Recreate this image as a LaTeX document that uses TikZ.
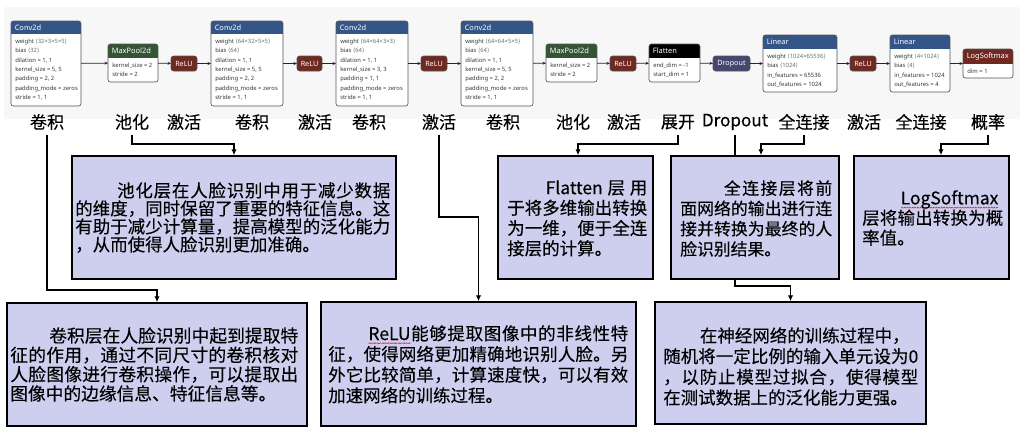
\documentclass[tikz,border=0pt]{standalone}
\usepackage{fontspec}
\setmainfont{Noto Sans CJK SC}[FakeBold=0.2]
\newfontfamily\netf{Noto Sans}
\newfontfamily\dvs{DejaVu Sans}
\usetikzlibrary{arrows.meta}
\definecolor{convc}{RGB}{51,85,136}
\definecolor{poolc}{RGB}{51,85,51}
\definecolor{reluc}{RGB}{112,41,33}
\definecolor{dropc}{RGB}{69,71,112}
\definecolor{boxc}{RGB}{206,206,238}
\definecolor{panelc}{RGB}{247,247,247}
\definecolor{nbord}{RGB}{85,85,85}
\definecolor{valc}{RGB}{110,110,110}
\definecolor{bodyc}{RGB}{55,55,55}
\newcommand\ang[1]{\textcolor{valc}{{\dvs ⟨}#1{\dvs ⟩}}}
\newsavebox\sqbox
\newcommand\squig[1]{\sbox\sqbox{#1}\rlap{\raisebox{-2.8pt}[0pt][0pt]{\hbox to \wd\sqbox{\xleaders\hbox{\tikz[baseline=0pt,x=1pt,y=1pt]\draw[red,line width=0.35pt] (0,0)--(0.8,0.8)--(1.6,0);}\hfill}}}\usebox\sqbox}
\def\spreadloop#1{\ifx\relax#1\else\hfil#1\expandafter\spreadloop\fi}
\newcommand\jl[3]{\hbox to #1{#2\spreadloop#3\relax}}
\newcommand\netnode[9]{%
  \node[netbox, minimum width={(#4-#2)*0.75pt}, minimum height={(#5-#3)*0.75pt}] (#1) at ({(#2+#4)/2},{(#3+#5)/2}) {};
  \begin{scope}
    \clip[rounded corners=1.8pt] (#2,#3) rectangle (#4,#5);
    \fill[#7] (#2,#3) rectangle (#4,#6);
  \end{scope}
  \draw[nbordl] (#2,#3) rectangle (#4,#5);
  \node[nettitle] (#1-t) at (#2+3.5,{(#3+#6)/2}) {#8};
  \node[netbody] (#1-b) at (#2+4,#6+4.5) {#9};
}
\begin{document}
\begin{tikzpicture}[x=0.75pt,y=-0.75pt,
  netbox/.style={fill=white, inner sep=0pt, outer sep=0pt},
  nbordl/.style={draw=nbord, line width=0.5pt, rounded corners=1.8pt},
  nettitle/.style={anchor=west, inner sep=0pt, text=white, font=\netf\fontsize{5.6}{6}\selectfont},
  netbody/.style={anchor=north west, inner sep=0pt, align=left, text=bodyc, font=\netf\fontsize{4.4}{7.05}\selectfont},
  act/.style={draw=nbord, line width=0.5pt, rounded corners=2pt, text=white, inner sep=0pt, outer sep=0pt,
    minimum height=11.25pt, font=\netf\fontsize{5.4}{6}\selectfont},
  flow/.style={draw=black!85, line width=0.55pt, -{Stealth[length=2.6pt,width=2.2pt]}},
  lab/.style={inner sep=0pt, font=\fontsize{12.8}{14}\selectfont},
  desc/.style={draw=black, line width=1.2pt, fill=boxc, inner sep=0pt},
  dtxt/.style={anchor=north west, inner sep=0pt, align=left},
  conn/.style={draw=black, line width=1.3pt, -{Latex[length=4.4pt,width=4pt]}}
]
\useasboundingbox (0,0) rectangle (1024,436);
\fill[white] (0,0) rectangle (1024,436);
\fill[panelc] (4,7) rectangle (1020,119);

% ---------- network row ----------
\netnode{c1}{11}{21}{81}{106}{34}{convc}{Conv2d}{{\bfseries weight} \ang{32×3×5×5}\\{\bfseries bias} \ang{32}\\dilation = 1, 1\\kernel\_size = 5, 5\\padding = 2, 2\\padding\_mode = zeros\\stride = 1, 1}
\netnode{p1}{108}{44}{158}{82}{58}{poolc}{MaxPool2d}{kernel\_size = 2\\stride = 2}
\node[act, fill=reluc, minimum width=19.5pt] (r1) at (184,63.5) {ReLU};
\netnode{c2}{211}{21}{283}{106}{34}{convc}{Conv2d}{{\bfseries weight} \ang{64×32×5×5}\\{\bfseries bias} \ang{64}\\dilation = 1, 1\\kernel\_size = 5, 5\\padding = 2, 2\\padding\_mode = zeros\\stride = 1, 1}
\node[act, fill=reluc, minimum width=18.75pt] (r2) at (309.5,63.5) {ReLU};
\netnode{c3}{336}{21}{408}{106}{34}{convc}{Conv2d}{{\bfseries weight} \ang{64×64×3×3}\\{\bfseries bias} \ang{64}\\dilation = 1, 1\\kernel\_size = 3, 3\\padding = 1, 1\\padding\_mode = zeros\\stride = 1, 1}
\node[act, fill=reluc, minimum width=19.5pt] (r3) at (434,63.5) {ReLU};
\netnode{c4}{461}{21}{533}{106}{34}{convc}{Conv2d}{{\bfseries weight} \ang{64×64×5×5}\\{\bfseries bias} \ang{64}\\dilation = 1, 1\\kernel\_size = 5, 5\\padding = 2, 2\\padding\_mode = zeros\\stride = 1, 1}
\netnode{p2}{546}{44}{597}{82}{58}{poolc}{MaxPool2d}{kernel\_size = 2\\stride = 2}
\node[act, fill=reluc, minimum width=19.5pt] (r4) at (623,63.5) {ReLU};
\netnode{f1}{649}{44}{700}{82}{58}{black}{Flatten}{end\_dim = -1\\start\_dim = 1}
\node[act, fill=dropc, minimum width=27.75pt] (d1) at (731.5,63.5) {Dropout};
\netnode{lin1}{763}{35}{837}{92}{49}{convc}{Linear}{{\bfseries weight} \ang{1024×65536}\\{\bfseries bias} \ang{1024}\\in\_features = 65536\\out\_features = 1024}
\node[act, fill=reluc, minimum width=19.5pt] (r5) at (863,63.5) {ReLU};
\netnode{lin2}{890}{35}{950}{92}{49}{convc}{Linear}{{\bfseries weight} \ang{4×1024}\\{\bfseries bias} \ang{4}\\in\_features = 1024\\out\_features = 4}
\netnode{s1}{963}{49}{1013}{78}{64}{reluc}{LogSoftmax}{dim = 1}

\draw[flow] (c1) -- (p1);
\draw[flow] (p1) -- (r1);
\draw[flow] (r1) -- (c2);
\draw[flow] (c2) -- (r2);
\draw[flow] (r2) -- (c3);
\draw[flow] (c3) -- (r3);
\draw[flow] (r3) -- (c4);
\draw[flow] (c4) -- (p2);
\draw[flow] (p2) -- (r4);
\draw[flow] (r4) -- (f1);
\draw[flow] (f1) -- (d1);
\draw[flow] (d1) -- (lin1);
\draw[flow] (lin1) -- (r5);
\draw[flow] (r5) -- (lin2);
\draw[flow] (lin2) -- (s1);

% ---------- labels ----------
\node[lab] (t1) at (47,122) {卷积};
\node[lab] (t2) at (132,122) {池化};
\node[lab] (t3) at (184,122) {激活};
\node[lab] (t4) at (252,122) {卷积};
\node[lab] (t5) at (315,122) {激活};
\node[lab] (t6) at (369,122) {卷积};
\node[lab] (t7) at (439,122) {激活};
\node[lab] (t8) at (503,122) {卷积};
\node[lab] (t9) at (573,122) {池化};
\node[lab] (t10) at (624,122) {激活};
\node[lab] (t11) at (678,122) {展开};
\node[lab] (t12) at (735,122) {Dropout};
\node[lab] (t13) at (804,122) {全连接};
\node[lab] (t14) at (864,122) {激活};
\node[lab] (t15) at (921,122) {全连接};
\node[lab] (t16) at (988,122) {概率};
\coordinate (ytop) at (0,135);

% ---------- description boxes ----------
\node[desc, minimum width=225pt, minimum height=92.25pt] (dE) at (157,364.5) {};
\node[desc, minimum width=236.25pt, minimum height=93pt] (dF) at (478.5,364) {};
\node[desc, minimum width=203.25pt, minimum height=91.5pt] (dG) at (790.5,363) {};
\node[desc, minimum width=243pt, minimum height=92.25pt] (dA) at (234,217.5) {};
\node[desc, minimum width=116.25pt, minimum height=92.25pt] (dB) at (575.5,217.5) {};
\node[desc, minimum width=116.25pt, minimum height=92.25pt] (dD) at (931.5,217.5) {};

\draw[conn] (t12 |- ytop) |- ([yshift=11.25pt]dG.north) -- (dG.north);

\node[desc, minimum width=126pt, minimum height=92.25pt] (dC) at (755,217.5) {};

\node[dtxt, font=\fontsize{13.1}{13.5}\selectfont] (xA) at (75,182) {\jl{236.25pt}{\hspace*{2.4em}池}{化层在人脸识别中用于减少数据}\\\jl{236.25pt}{的}{维度，同时保留了重要的特征信息。这}\\\jl{236.25pt}{有}{助于减少计算量，提高模型的泛化能力}\\，从而使得人脸识别更加准确。};
\node[dtxt, font=\fontsize{13.1}{15.2}\selectfont] (xB) at (507,180) {\hbox to 105pt{\hspace*{2.2em}Flatten\hfil\ 层\hfil\ 用}\\\jl{105pt}{于}{将多维输出转换}\\\jl{105pt}{为}{一维，便于全连}\\接层的计算。};
\node[dtxt, font=\fontsize{12.6}{15.2}\selectfont] (xC) at (680,180) {\jl{114pt}{\hspace*{2.6em}全}{连接层将前}\\\jl{114pt}{面}{网络的输出进行连}\\\jl{114pt}{接}{并转换为最终的人}\\脸识别结果。};
\node[dtxt, font=\fontsize{13.1}{15}\selectfont] (xD) at (862,190) {\vphantom{层}\hspace*{2.2em}\squig{LogSoftmax}\\\jl{105.75pt}{层}{将输出转换为概}\\率值。};
\node[dtxt, font=\fontsize{13.3}{14.5}\selectfont] (xE) at (10,327) {\jl{216pt}{\hspace*{2.2em}卷}{积层在人脸识别中起到提取特}\\\jl{216pt}{征}{的作用，通过不同尺寸的卷积核对}\\\jl{216pt}{人}{脸图像进行卷积操作，可以提取出}\\图像中的边缘信息、特征信息等。};
\node[dtxt, font=\fontsize{13.1}{15.5}\selectfont] (xF) at (328,325) {\jl{225pt}{\hspace*{2.3em}\squig{ReLU}}{能够提取图像中的非线性特}\\\jl{225pt}{征}{，使得网络更加精确地识别人脸。另}\\\jl{225pt}{外}{它比较简单，计算速度快，可以有效}\\加速网络的训练过程。};
\node[dtxt, font=\fontsize{13.1}{15.5}\selectfont] (xG) at (663,327) {\hspace*{2.1em}在神经网络的训练过程中，\\\jl{191.25pt}{随}{机将一定比例的输入单元设为0}\\\jl{191.25pt}{，}{以防止模型过拟合，使得模型}\\在测试数据上的泛化能力更强。};

% ---------- connectors ----------
\draw[conn] (t1 |- ytop) |- ([yshift=9pt]dE.north) -- (dE.north);
\draw[conn] (t2 |- ytop) |- ([yshift=8.25pt]dA.north) -- (dA.north);
\draw[conn] (t7 |- ytop) |- ([yshift=63pt]dF.north) -- (dF.north);
\draw[conn] (t11 |- ytop) |- ([xshift=1.9pt,yshift=8.25pt]dB.north) -- ([xshift=1.9pt]dB.north);
\draw[conn] (t13 |- ytop) |- ([xshift=4.5pt,yshift=8.25pt]dC.north) -- ([xshift=4.5pt]dC.north);
\draw[conn] (t16 |- ytop) |- ([xshift=7.1pt,yshift=8.25pt]dD.north) -- ([xshift=7.1pt]dD.north);
\end{tikzpicture}
\end{document}
